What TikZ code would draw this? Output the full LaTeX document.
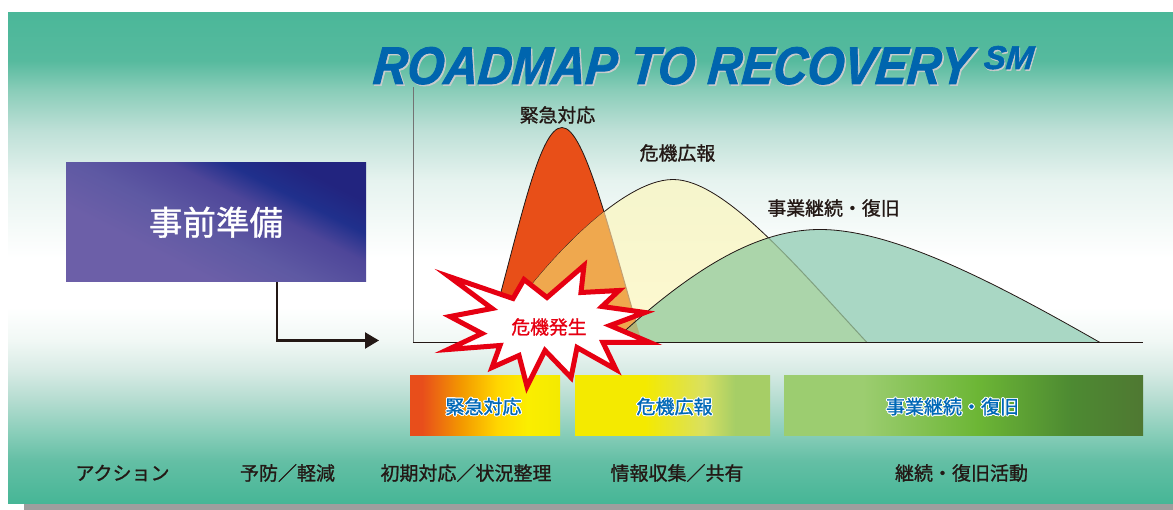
\documentclass[tikz,border=0pt]{standalone}
\usepackage{fontspec}
\usepackage{contour}
\usetikzlibrary{arrows.meta}
\setmainfont{Liberation Sans}
\newfontfamily\ttlf[BoldItalicFeatures={FakeBold=1.6,FakeSlant=0.1}]{Liberation Sans}
\newfontfamily\jp[FakeBold=1.1]{Noto Sans CJK JP}
\contourlength{0.9pt}
\contournumber{16}
\definecolor{bgA}{HTML}{4BB799}
\definecolor{bgB}{HTML}{56BA9E}
\definecolor{bgC}{HTML}{8ACDB9}
\definecolor{bgD}{HTML}{BEE0D7}
\definecolor{bgE}{HTML}{E6F3EF}
\definecolor{bgG}{HTML}{F1F8F5}
\definecolor{bgH}{HTML}{D8EBE5}
\definecolor{bgI}{HTML}{B4DCD0}
\definecolor{bgJ}{HTML}{8CCFBB}
\definecolor{bgK}{HTML}{64BFA5}
\definecolor{bgL}{HTML}{46B696}
\pgfdeclareverticalshading{bgshade}{100bp}{
 color(0bp)=(bgL); color(25bp)=(bgL); color(29.38bp)=(bgK); color(32.43bp)=(bgJ);
 color(35.49bp)=(bgI); color(38.54bp)=(bgH); color(41.6bp)=(bgG); color(45bp)=(white);
 color(50bp)=(white); color(57.89bp)=(bgE); color(62.98bp)=(bgD); color(67.06bp)=(bgC);
 color(70.11bp)=(bgB); color(75bp)=(bgA); color(100bp)=(bgA)}
\definecolor{pA}{HTML}{6C5FA8}
\definecolor{pB}{HTML}{5E59A3}
\definecolor{pC}{HTML}{4E4699}
\definecolor{pD}{HTML}{20308C}
\definecolor{pE}{HTML}{22247F}
\pgfdeclareverticalshading{prepshade}{100bp}{
 color(0bp)=(pA); color(35bp)=(pA); color(47bp)=(pB); color(59bp)=(pC); color(66bp)=(pD); color(74bp)=(pE); color(100bp)=(pE)}
\definecolor{bOne}{HTML}{E84E1B}
\definecolor{bTwo}{HTML}{F39800}
\definecolor{bThree}{HTML}{FFD500}
\definecolor{bFour}{HTML}{FBEE00}
\definecolor{bFive}{HTML}{F4EA00}
\pgfdeclarehorizontalshading{barone}{100bp}{
 color(0bp)=(bOne); color(25bp)=(bOne); color(29bp)=(bOne); color(42bp)=(bTwo); color(54bp)=(bThree); color(64bp)=(bFour); color(75bp)=(bFive); color(100bp)=(bFive)}
\definecolor{cTwo}{HTML}{D9E060}
\definecolor{cThree}{HTML}{A6CE66}
\pgfdeclarehorizontalshading{bartwo}{100bp}{
 color(0bp)=(bFive); color(25bp)=(bFive); color(43bp)=(bFive); color(58bp)=(cTwo); color(66bp)=(cThree); color(75bp)=(cThree); color(100bp)=(cThree)}
\definecolor{dOne}{HTML}{9CCD70}
\definecolor{dTwo}{HTML}{6CB635}
\definecolor{dThree}{HTML}{4D8A32}
\definecolor{dFour}{HTML}{4F7832}
\pgfdeclarehorizontalshading{barthree}{100bp}{
 color(0bp)=(dOne); color(25bp)=(dOne); color(36bp)=(dOne); color(52bp)=(dTwo); color(65bp)=(dThree); color(75bp)=(dFour); color(100bp)=(dFour)}
\definecolor{redfill}{HTML}{E84F18}
\definecolor{yeltop}{HTML}{F5F5CC}
\definecolor{yelbot}{HTML}{FEF9D0}
\definecolor{orgfill}{HTML}{EFA84E}
\definecolor{grnfill}{HTML}{A9D7C4}
\definecolor{ovlfill}{HTML}{ABD5AA}
\definecolor{olvfill}{HTML}{B4B678}
\definecolor{burst}{HTML}{E60012}
\definecolor{barblue}{HTML}{0068B7}
\definecolor{titleblue}{HTML}{0065AE}
\definecolor{titleshadow}{HTML}{C9CCCC}
\definecolor{ink}{HTML}{231815}
\def\redp{(487,342) .. controls (518,235) and (538,127) .. (562,127) .. controls (585,127) and (610,235) .. (642,342)}
\def\yelp{(490,342) .. controls (535,270) and (620,179) .. (673,179) .. controls (725,179) and (800,270) .. (867,342)}
\def\grnp{(612,342) .. controls (690,270) and (755,229) .. (820,229) .. controls (895,229) and (1000,285) .. (1100,342)}
\tikzset{
 curvelab/.style={font=\jp\fontsize{18.9}{19}\selectfont,text=ink,inner sep=0pt},
 actlab/.style={font=\jp\fontsize{19}{19}\selectfont,text=ink,inner sep=0pt},
 barbox/.style={inner sep=0pt,minimum height=60.5pt},
 barlab/.style={inner sep=0pt,font=\jp\fontsize{19}{19}\selectfont,text=barblue},
 curveline/.style={draw=ink,line width=0.8pt},
 softline/.style={line width=1pt},
 titlelab/.style={anchor=base west,inner sep=0pt,font=\ttlf\bfseries\itshape},
}
\begin{document}
\begin{tikzpicture}[x=1pt,y=-1pt]
\useasboundingbox (0,-0.5) rectangle (1173,509.5);
\fill[white] (0,-0.5) rectangle (1173,509.5);
\fill[black!38] (24,503) rectangle (1173,509.5);
\path[shading=bgshade] (8,12) rectangle (1173,503);
% title
\node[titlelab,text=titleshadow] (titlesh) at (373.5,85)
 {\fontsize{53}{53}\selectfont\scalebox{.89}[1]{ROADMAP TO RECOVERY}};
\node[titlelab,text=titleblue] (title) at (372,83.5)
 {\fontsize{53}{53}\selectfont\scalebox{.89}[1]{ROADMAP TO RECOVERY}};
\node[titlelab,text=titleshadow] (smsh) at (984,70)
 {\fontsize{33}{33}\selectfont SM};
\node[titlelab,text=titleblue] (sm) at (983,68.5)
 {\fontsize{33}{33}\selectfont SM};
% curves
\path[fill=redfill,curveline] \redp;
\path[top color=yeltop,bottom color=yelbot,curveline] \yelp;
\begin{scope}
 \clip \yelp -- cycle;
 \fill[orgfill] \redp -- cycle;
 \draw[softline,draw=orgfill!70!black!70] \redp;
\end{scope}
\path[fill=grnfill] \grnp;
\begin{scope}
 \clip \grnp -- cycle;
 \fill[ovlfill] \yelp -- cycle;
 \fill[olvfill] \redp -- cycle;
 \draw[softline,draw=ovlfill!75!black] \yelp;
\end{scope}
\draw[curveline] \grnp;
% axes
\coordinate (axtop) at (413,87);
\coordinate (axorg) at (413,341.5);
\coordinate (axend) at (1143,341.5);
\draw[line width=1pt,draw=black!55] (axtop) -- (axorg);
\draw[line width=0.9pt,draw=ink] (axorg) -- (axend);
% curve labels
\node[curvelab] (lab1) at (557.5,114.5) {緊急対応};
\node[curvelab] (lab2) at (677.5,152.5) {危機広報};
\node[curvelab] (lab3) at (833.5,207.5) {事業継続・復旧};
% preparation box
\node[inner sep=0pt,minimum width=300pt,minimum height=119.5pt,shading=prepshade,shading angle=-27,text=white,font=\jp\fontsize{33.5}{34}\selectfont] (prep) at (216,221.75) {事前準備};
\coordinate (bend) at (277,340);
\coordinate (atip) at (379,340);
\draw[line width=2.4pt,draw=ink,-{Triangle[length=14pt,width=16pt]}] (prep.south -| bend) -- (bend) -- (atip);
% bars
\node[barbox,minimum width=150pt,shading=barone] (b1) at (485,405.25) {};
\node[barbox,minimum width=195pt,shading=bartwo] (b2) at (672.5,405.25) {};
\node[barbox,minimum width=359pt,shading=barthree] (b3) at (963.5,405.25) {};
\node[barlab] (bl1) at (483.5,406.5) {\contour{white}{緊急対応}};
\node[barlab] (bl2) at (674.5,406.5) {\contour{white}{危機広報}};
\node[barlab] (bl3) at (952.5,406.5) {\contour{white}{事業継続・復旧}};
% burst
\draw[fill=white,draw=burst,line width=5pt,miter limit=10,line join=miter]
 (449,276) -- (513,298) -- (524,279) -- (547,297) -- (584,265) -- (581,292) -- (619,290)
 -- (602,306) -- (645,312) -- (610,325) -- (650,342) -- (603,342) -- (616,369) -- (577,347)
 -- (571,377) -- (545,350) -- (527,386) -- (519,355) -- (492,367) -- (500,345) -- (448,349)
 -- (482,333) -- (450,316) -- (492,308) -- cycle;
\node[inner sep=0pt,text=burst,font=\jp\fontsize{18.8}{19}\selectfont] (crisis) at (549,326.5) {危機発生};
% action row
\node[actlab] (a1) at (122.5,472.5) {アクション};
\node[actlab] (a2) at (287.5,472.5) {予防／軽減};
\node[actlab] (a3) at (466,472.5) {初期対応／状況整理};
\node[actlab] (a4) at (677,472.5) {情報収集／共有};
\node[actlab] (a5) at (961.5,472.5) {継続・復旧活動};
\end{tikzpicture}
\end{document}
